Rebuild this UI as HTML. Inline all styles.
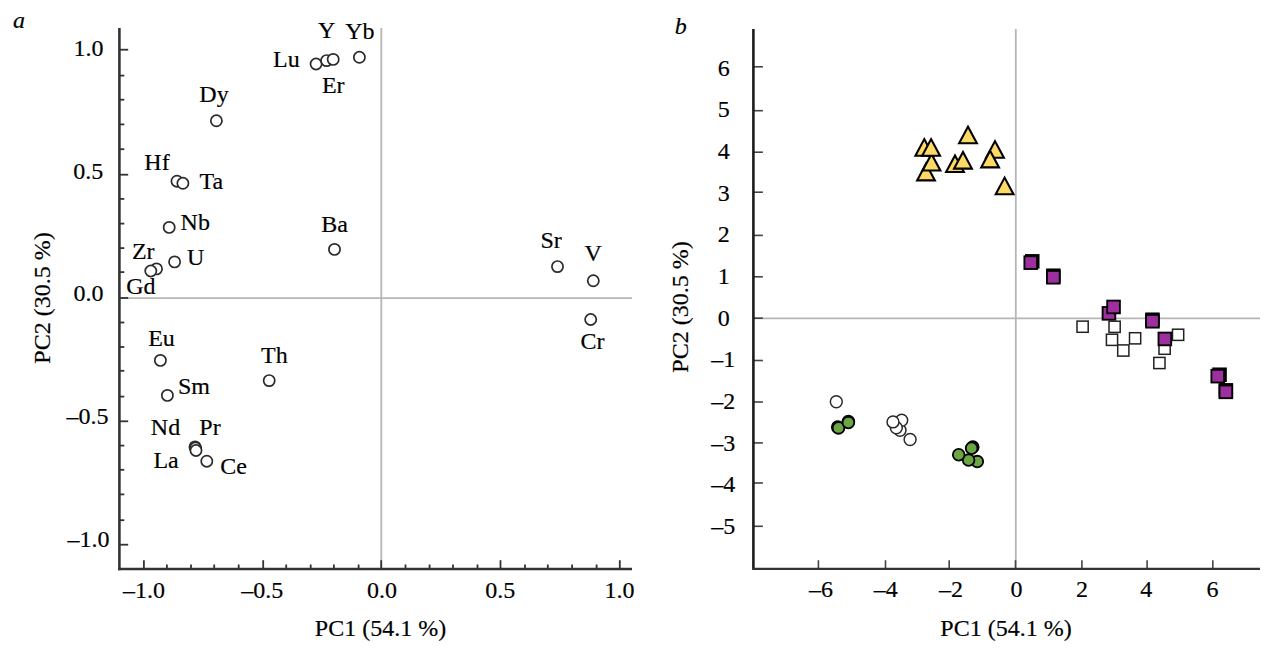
<!DOCTYPE html>
<html><head><meta charset="utf-8"><title>PCA</title>
<style>
html,body{margin:0;padding:0;background:#fff;}
body{width:1274px;height:656px;overflow:hidden;}
svg{display:block;font-family:"Liberation Serif","Times New Roman",serif;}
svg text{fill:#000;stroke:#000;stroke-width:0.18px;}
</style></head><body>
<svg width="1274" height="656" viewBox="0 0 1274 656">
<rect width="1274" height="656" fill="#fff"/>
<line x1="119.4" y1="298.2" x2="632" y2="298.2" stroke="#b6b6b6" stroke-width="1.8"/>
<line x1="381.3" y1="28.0" x2="381.3" y2="569.0" stroke="#b6b6b6" stroke-width="1.8"/>
<line x1="119.4" y1="544.7" x2="128.2" y2="544.7" stroke="#333" stroke-width="1.8"/>
<line x1="119.4" y1="520.2" x2="124.3" y2="520.2" stroke="#333" stroke-width="1.8"/>
<line x1="119.4" y1="494.4" x2="124.3" y2="494.4" stroke="#333" stroke-width="1.8"/>
<line x1="119.4" y1="469.8" x2="124.3" y2="469.8" stroke="#333" stroke-width="1.8"/>
<line x1="119.4" y1="445.6" x2="124.3" y2="445.6" stroke="#333" stroke-width="1.8"/>
<line x1="119.4" y1="421.3" x2="128.2" y2="421.3" stroke="#333" stroke-width="1.8"/>
<line x1="119.4" y1="396.6" x2="124.3" y2="396.6" stroke="#333" stroke-width="1.8"/>
<line x1="119.4" y1="370.8" x2="124.3" y2="370.8" stroke="#333" stroke-width="1.8"/>
<line x1="119.4" y1="347.0" x2="124.3" y2="347.0" stroke="#333" stroke-width="1.8"/>
<line x1="119.4" y1="322.5" x2="124.3" y2="322.5" stroke="#333" stroke-width="1.8"/>
<line x1="119.4" y1="298.0" x2="128.2" y2="298.0" stroke="#333" stroke-width="1.8"/>
<line x1="119.4" y1="272.1" x2="124.3" y2="272.1" stroke="#333" stroke-width="1.8"/>
<line x1="119.4" y1="248.1" x2="124.3" y2="248.1" stroke="#333" stroke-width="1.8"/>
<line x1="119.4" y1="223.6" x2="124.3" y2="223.6" stroke="#333" stroke-width="1.8"/>
<line x1="119.4" y1="198.9" x2="124.3" y2="198.9" stroke="#333" stroke-width="1.8"/>
<line x1="119.4" y1="174.7" x2="128.2" y2="174.7" stroke="#333" stroke-width="1.8"/>
<line x1="119.4" y1="149.2" x2="124.3" y2="149.2" stroke="#333" stroke-width="1.8"/>
<line x1="119.4" y1="124.4" x2="124.3" y2="124.4" stroke="#333" stroke-width="1.8"/>
<line x1="119.4" y1="99.7" x2="124.3" y2="99.7" stroke="#333" stroke-width="1.8"/>
<line x1="119.4" y1="75.6" x2="124.3" y2="75.6" stroke="#333" stroke-width="1.8"/>
<line x1="119.4" y1="49.7" x2="128.2" y2="49.7" stroke="#333" stroke-width="1.8"/>
<line x1="143.9" y1="569.0" x2="143.9" y2="560.2" stroke="#333" stroke-width="1.8"/>
<line x1="166.9" y1="569.0" x2="166.9" y2="564.5" stroke="#333" stroke-width="1.8"/>
<line x1="191.0" y1="569.0" x2="191.0" y2="564.5" stroke="#333" stroke-width="1.8"/>
<line x1="214.2" y1="569.0" x2="214.2" y2="564.5" stroke="#333" stroke-width="1.8"/>
<line x1="238.7" y1="569.0" x2="238.7" y2="564.5" stroke="#333" stroke-width="1.8"/>
<line x1="263.2" y1="569.0" x2="263.2" y2="560.2" stroke="#333" stroke-width="1.8"/>
<line x1="286.2" y1="569.0" x2="286.2" y2="564.5" stroke="#333" stroke-width="1.8"/>
<line x1="310.7" y1="569.0" x2="310.7" y2="564.5" stroke="#333" stroke-width="1.8"/>
<line x1="333.9" y1="569.0" x2="333.9" y2="564.5" stroke="#333" stroke-width="1.8"/>
<line x1="358.6" y1="569.0" x2="358.6" y2="564.5" stroke="#333" stroke-width="1.8"/>
<line x1="381.2" y1="569.0" x2="381.2" y2="560.2" stroke="#333" stroke-width="1.8"/>
<line x1="405.5" y1="569.0" x2="405.5" y2="564.5" stroke="#333" stroke-width="1.8"/>
<line x1="429.6" y1="569.0" x2="429.6" y2="564.5" stroke="#333" stroke-width="1.8"/>
<line x1="453.0" y1="569.0" x2="453.0" y2="564.5" stroke="#333" stroke-width="1.8"/>
<line x1="477.5" y1="569.0" x2="477.5" y2="564.5" stroke="#333" stroke-width="1.8"/>
<line x1="500.5" y1="569.0" x2="500.5" y2="560.2" stroke="#333" stroke-width="1.8"/>
<line x1="525.0" y1="569.0" x2="525.0" y2="564.5" stroke="#333" stroke-width="1.8"/>
<line x1="547.8" y1="569.0" x2="547.8" y2="564.5" stroke="#333" stroke-width="1.8"/>
<line x1="572.1" y1="569.0" x2="572.1" y2="564.5" stroke="#333" stroke-width="1.8"/>
<line x1="596.6" y1="569.0" x2="596.6" y2="564.5" stroke="#333" stroke-width="1.8"/>
<line x1="619.8" y1="569.0" x2="619.8" y2="560.2" stroke="#333" stroke-width="1.8"/>
<path d="M119.4 28.0 V570.2" fill="none" stroke="#333" stroke-width="2.6"/>
<path d="M118.10000000000001 569.0 H632" fill="none" stroke="#333" stroke-width="2.4"/>
<text x="103.6" y="55.9" text-anchor="end" font-size="24" >1.0</text>
<text x="103.2" y="178.8" text-anchor="end" font-size="24" >0.5</text>
<text x="103.6" y="300.7" text-anchor="end" font-size="24" >0.0</text>
<text x="108.6" y="423.8" text-anchor="end" font-size="24" >–0.5</text>
<text x="109.6" y="547.0" text-anchor="end" font-size="24" >–1.0</text>
<text x="144.1" y="598.0" text-anchor="middle" font-size="24" >–1.0</text>
<text x="262.2" y="598.0" text-anchor="middle" font-size="24" >–0.5</text>
<text x="381.9" y="597.8" text-anchor="middle" font-size="24" >0.0</text>
<text x="500.2" y="597.6" text-anchor="middle" font-size="24" >0.5</text>
<text x="619.4" y="597.6" text-anchor="middle" font-size="24" >1.0</text>
<text x="380.5" y="635.6" text-anchor="middle" font-size="24" >PC1 (54.1 %)</text>
<text transform="translate(50.3,298) rotate(-90)" text-anchor="middle" stroke-width="0.1" font-size="24">PC2 (30.5 %)</text>
<text x="13.0" y="28.3" text-anchor="start" font-size="24" font-style="italic">a</text>
<circle cx="316.1" cy="64.0" r="5.6" fill="#fff" stroke="#2a2a2a" stroke-width="1.7"/>
<circle cx="326.6" cy="60.6" r="5.6" fill="#fff" stroke="#2a2a2a" stroke-width="1.7"/>
<circle cx="333.2" cy="59.4" r="5.6" fill="#fff" stroke="#2a2a2a" stroke-width="1.7"/>
<circle cx="359.4" cy="57.3" r="5.6" fill="#fff" stroke="#2a2a2a" stroke-width="1.7"/>
<circle cx="216.4" cy="120.8" r="5.6" fill="#fff" stroke="#2a2a2a" stroke-width="1.7"/>
<circle cx="177" cy="181.2" r="5.6" fill="#fff" stroke="#2a2a2a" stroke-width="1.7"/>
<circle cx="182.9" cy="183.3" r="5.6" fill="#fff" stroke="#2a2a2a" stroke-width="1.7"/>
<circle cx="169.2" cy="227.4" r="5.6" fill="#fff" stroke="#2a2a2a" stroke-width="1.7"/>
<circle cx="174.6" cy="261.9" r="5.6" fill="#fff" stroke="#2a2a2a" stroke-width="1.7"/>
<circle cx="156.5" cy="268.9" r="5.6" fill="#fff" stroke="#2a2a2a" stroke-width="1.7"/>
<circle cx="150.8" cy="271" r="5.6" fill="#fff" stroke="#2a2a2a" stroke-width="1.7"/>
<circle cx="334.5" cy="249.4" r="5.6" fill="#fff" stroke="#2a2a2a" stroke-width="1.7"/>
<circle cx="160.4" cy="360.4" r="5.6" fill="#fff" stroke="#2a2a2a" stroke-width="1.7"/>
<circle cx="167.4" cy="395.4" r="5.6" fill="#fff" stroke="#2a2a2a" stroke-width="1.7"/>
<circle cx="269.2" cy="380.6" r="5.6" fill="#fff" stroke="#2a2a2a" stroke-width="1.7"/>
<circle cx="195.0" cy="446.9" r="5.6" fill="#fff" stroke="#2a2a2a" stroke-width="1.7"/>
<circle cx="195.5" cy="448.1" r="5.6" fill="#fff" stroke="#2a2a2a" stroke-width="1.7"/>
<circle cx="196.0" cy="450.5" r="5.6" fill="#fff" stroke="#2a2a2a" stroke-width="1.7"/>
<circle cx="206.8" cy="461.2" r="5.6" fill="#fff" stroke="#2a2a2a" stroke-width="1.7"/>
<circle cx="557.5" cy="266.6" r="5.6" fill="#fff" stroke="#2a2a2a" stroke-width="1.7"/>
<circle cx="593.3" cy="280.8" r="5.6" fill="#fff" stroke="#2a2a2a" stroke-width="1.7"/>
<circle cx="590.7" cy="319.5" r="5.6" fill="#fff" stroke="#2a2a2a" stroke-width="1.7"/>
<text x="318.0" y="37.6" text-anchor="start" font-size="24" >Y</text>
<text x="345.2" y="38.9" text-anchor="start" font-size="24" >Yb</text>
<text x="273.1" y="67.4" text-anchor="start" font-size="24" >Lu</text>
<text x="321.9" y="93.1" text-anchor="start" font-size="24" >Er</text>
<text x="199.3" y="102.4" text-anchor="start" font-size="24" >Dy</text>
<text x="144.3" y="170.3" text-anchor="start" font-size="24" >Hf</text>
<text x="199.5" y="189.2" text-anchor="start" font-size="24" >Ta</text>
<text x="180.6" y="230.2" text-anchor="start" font-size="24" >Nb</text>
<text x="321.3" y="231.6" text-anchor="start" font-size="24" >Ba</text>
<text x="131.9" y="258.8" text-anchor="start" font-size="24" >Zr</text>
<text x="187.1" y="265.2" text-anchor="start" font-size="24" >U</text>
<text x="126.2" y="294.2" text-anchor="start" font-size="24" >Gd</text>
<text x="148.2" y="345.9" text-anchor="start" font-size="24" >Eu</text>
<text x="261.0" y="362.8" text-anchor="start" font-size="24" >Th</text>
<text x="178.0" y="393.9" text-anchor="start" font-size="24" >Sm</text>
<text x="150.8" y="435.4" text-anchor="start" font-size="24" >Nd</text>
<text x="199.3" y="435.4" text-anchor="start" font-size="24" >Pr</text>
<text x="153.4" y="467.8" text-anchor="start" font-size="24" >La</text>
<text x="220.3" y="473.5" text-anchor="start" font-size="24" >Ce</text>
<text x="540.5" y="247.7" text-anchor="start" font-size="24" >Sr</text>
<text x="584.5" y="261.1" text-anchor="start" font-size="24" >V</text>
<text x="580.6" y="348.8" text-anchor="start" font-size="24" >Cr</text>
<line x1="753.4" y1="318.4" x2="1260" y2="318.4" stroke="#b6b6b6" stroke-width="1.8"/>
<line x1="1015.8" y1="29" x2="1015.8" y2="568.8" stroke="#b6b6b6" stroke-width="1.8"/>
<line x1="753.4" y1="66.8" x2="762.9" y2="66.8" stroke="#444" stroke-width="1.6"/>
<line x1="753.4" y1="110.7" x2="762.9" y2="110.7" stroke="#444" stroke-width="1.6"/>
<line x1="753.4" y1="152.2" x2="762.9" y2="152.2" stroke="#444" stroke-width="1.6"/>
<line x1="753.4" y1="192.2" x2="762.9" y2="192.2" stroke="#444" stroke-width="1.6"/>
<line x1="753.4" y1="235.4" x2="762.9" y2="235.4" stroke="#444" stroke-width="1.6"/>
<line x1="753.4" y1="276.8" x2="762.9" y2="276.8" stroke="#444" stroke-width="1.6"/>
<line x1="753.4" y1="318.2" x2="762.9" y2="318.2" stroke="#444" stroke-width="1.6"/>
<line x1="753.4" y1="360.5" x2="762.9" y2="360.5" stroke="#444" stroke-width="1.6"/>
<line x1="753.4" y1="402" x2="762.9" y2="402" stroke="#444" stroke-width="1.6"/>
<line x1="753.4" y1="442.9" x2="762.9" y2="442.9" stroke="#444" stroke-width="1.6"/>
<line x1="753.4" y1="483" x2="762.9" y2="483" stroke="#444" stroke-width="1.6"/>
<line x1="753.4" y1="526.3" x2="762.9" y2="526.3" stroke="#444" stroke-width="1.6"/>
<line x1="818.4" y1="568.8" x2="818.4" y2="560.1999999999999" stroke="#444" stroke-width="1.6"/>
<line x1="885.5" y1="568.8" x2="885.5" y2="560.1999999999999" stroke="#444" stroke-width="1.6"/>
<line x1="949.2" y1="568.8" x2="949.2" y2="560.1999999999999" stroke="#444" stroke-width="1.6"/>
<line x1="1015.5" y1="568.8" x2="1015.5" y2="560.1999999999999" stroke="#444" stroke-width="1.6"/>
<line x1="1081.9" y1="568.8" x2="1081.9" y2="560.1999999999999" stroke="#444" stroke-width="1.6"/>
<line x1="1147.1" y1="568.8" x2="1147.1" y2="560.1999999999999" stroke="#444" stroke-width="1.6"/>
<line x1="1212.8" y1="568.8" x2="1212.8" y2="560.1999999999999" stroke="#444" stroke-width="1.6"/>
<path d="M753.4 29 V568.8" fill="none" stroke="#1c1c1c" stroke-width="2.6"/>
<path d="M752.1 568.8 H1260" fill="none" stroke="#333" stroke-width="2.2"/>
<text x="723.8" y="75.5" text-anchor="middle" font-size="24" >6</text>
<text x="723.8" y="117.2" text-anchor="middle" font-size="24" >5</text>
<text x="723.8" y="158.9" text-anchor="middle" font-size="24" >4</text>
<text x="723.8" y="200.6" text-anchor="middle" font-size="24" >3</text>
<text x="723.8" y="242.2" text-anchor="middle" font-size="24" >2</text>
<text x="723.8" y="283.9" text-anchor="middle" font-size="24" >1</text>
<text x="723.8" y="325.6" text-anchor="middle" font-size="24" >0</text>
<text x="723.2" y="367.3" text-anchor="middle" font-size="24" >–1</text>
<text x="723.2" y="409.0" text-anchor="middle" font-size="24" >–2</text>
<text x="723.2" y="450.6" text-anchor="middle" font-size="24" >–3</text>
<text x="723.2" y="492.3" text-anchor="middle" font-size="24" >–4</text>
<text x="723.2" y="534.0" text-anchor="middle" font-size="24" >–5</text>
<text x="820.9" y="597.0" text-anchor="middle" font-size="24" >–6</text>
<text x="885.8" y="597.0" text-anchor="middle" font-size="24" >–4</text>
<text x="950.9" y="597.0" text-anchor="middle" font-size="24" >–2</text>
<text x="1016.4" y="597.0" text-anchor="middle" font-size="24" >0</text>
<text x="1081.9" y="597.0" text-anchor="middle" font-size="24" >2</text>
<text x="1146.3" y="597.0" text-anchor="middle" font-size="24" >4</text>
<text x="1212.5" y="597.0" text-anchor="middle" font-size="24" >6</text>
<text x="1006.0" y="635.6" text-anchor="middle" font-size="24" >PC1 (54.1 %)</text>
<text transform="translate(687.6,307) rotate(-90)" text-anchor="middle" stroke-width="0.1" font-size="24">PC2 (30.5 %)</text>
<text x="674.8" y="33.7" text-anchor="start" font-size="24" font-style="italic">b</text>
<rect x="1077.0" y="321.1" width="11.2" height="11.2" fill="#fff" stroke="#222" stroke-width="1.5"/>
<rect x="1109.0" y="321.2" width="11.2" height="11.2" fill="#fff" stroke="#222" stroke-width="1.5"/>
<rect x="1106.4" y="334.2" width="11.2" height="11.2" fill="#fff" stroke="#222" stroke-width="1.5"/>
<rect x="1117.7" y="344.9" width="11.2" height="11.2" fill="#fff" stroke="#222" stroke-width="1.5"/>
<rect x="1129.5" y="332.7" width="11.2" height="11.2" fill="#fff" stroke="#222" stroke-width="1.5"/>
<rect x="1172.5" y="329.2" width="11.2" height="11.2" fill="#fff" stroke="#222" stroke-width="1.5"/>
<rect x="1153.8" y="357.4" width="11.2" height="11.2" fill="#fff" stroke="#222" stroke-width="1.5"/>
<rect x="1159.0" y="343.1" width="11.2" height="11.2" fill="#fff" stroke="#222" stroke-width="1.5"/>
<rect x="1025.9" y="255.0" width="12.7" height="12.7" fill="#9e2f9f" stroke="#000" stroke-width="1.85"/>
<rect x="1024.4" y="256.3" width="12.7" height="12.7" fill="#9e2f9f" stroke="#000" stroke-width="1.85"/>
<rect x="1047.0" y="269.4" width="12.7" height="12.7" fill="#9e2f9f" stroke="#000" stroke-width="1.85"/>
<rect x="1047.0" y="270.9" width="12.7" height="12.7" fill="#9e2f9f" stroke="#000" stroke-width="1.85"/>
<rect x="1102.6" y="307.0" width="12.7" height="12.7" fill="#9e2f9f" stroke="#000" stroke-width="1.85"/>
<rect x="1107.2" y="300.6" width="12.7" height="12.7" fill="#9e2f9f" stroke="#000" stroke-width="1.85"/>
<rect x="1146.1" y="313.4" width="12.7" height="12.7" fill="#9e2f9f" stroke="#000" stroke-width="1.85"/>
<rect x="1146.1" y="314.9" width="12.7" height="12.7" fill="#9e2f9f" stroke="#000" stroke-width="1.85"/>
<rect x="1158.5" y="332.6" width="12.7" height="12.7" fill="#9e2f9f" stroke="#000" stroke-width="1.85"/>
<rect x="1213.2" y="368.4" width="12.7" height="12.7" fill="#9e2f9f" stroke="#000" stroke-width="1.85"/>
<rect x="1211.4" y="369.8" width="12.7" height="12.7" fill="#9e2f9f" stroke="#000" stroke-width="1.85"/>
<rect x="1219.5" y="384.0" width="12.7" height="12.7" fill="#9e2f9f" stroke="#000" stroke-width="1.85"/>
<rect x="1219.5" y="385.5" width="12.7" height="12.7" fill="#9e2f9f" stroke="#000" stroke-width="1.85"/>
<path d="M915.4 155.7 L924.3 139.1 L933.2 155.7 Z" fill="#ffd966" stroke="#000" stroke-width="2.1" stroke-linejoin="miter"/>
<path d="M917.1 180.4 L926.0 163.8 L934.9 180.4 Z" fill="#ffd966" stroke="#000" stroke-width="2.1" stroke-linejoin="miter"/>
<path d="M922.6 170.5 L931.5 153.9 L940.4 170.5 Z" fill="#ffd966" stroke="#000" stroke-width="2.1" stroke-linejoin="miter"/>
<path d="M922.2 155.7 L931.1 139.1 L940.0 155.7 Z" fill="#ffd966" stroke="#000" stroke-width="2.1" stroke-linejoin="miter"/>
<path d="M959.1 143.3 L968.0 126.7 L976.9 143.3 Z" fill="#ffd966" stroke="#000" stroke-width="2.1" stroke-linejoin="miter"/>
<path d="M946.1 172.0 L955.0 155.4 L963.9 172.0 Z" fill="#ffd966" stroke="#000" stroke-width="2.1" stroke-linejoin="miter"/>
<path d="M954.1 168.6 L963.0 152.0 L971.9 168.6 Z" fill="#ffd966" stroke="#000" stroke-width="2.1" stroke-linejoin="miter"/>
<path d="M986.1 157.7 L995.0 141.1 L1003.9 157.7 Z" fill="#ffd966" stroke="#000" stroke-width="2.1" stroke-linejoin="miter"/>
<path d="M981.2 167.4 L990.1 150.8 L999.0 167.4 Z" fill="#ffd966" stroke="#000" stroke-width="2.1" stroke-linejoin="miter"/>
<path d="M995.7 194.2 L1004.6 177.6 L1013.5 194.2 Z" fill="#ffd966" stroke="#000" stroke-width="2.1" stroke-linejoin="miter"/>
<circle cx="836.3" cy="401.8" r="5.95" fill="#fff" stroke="#2a2a2a" stroke-width="1.5"/>
<circle cx="910.1" cy="439.5" r="5.95" fill="#fff" stroke="#2a2a2a" stroke-width="1.5"/>
<circle cx="900" cy="430.3" r="5.95" fill="#fff" stroke="#2a2a2a" stroke-width="1.5"/>
<circle cx="901.7" cy="420.2" r="5.95" fill="#fff" stroke="#2a2a2a" stroke-width="1.5"/>
<circle cx="896.3" cy="427.8" r="5.95" fill="#fff" stroke="#2a2a2a" stroke-width="1.5"/>
<circle cx="893" cy="421.9" r="5.95" fill="#fff" stroke="#2a2a2a" stroke-width="1.5"/>
<circle cx="837.7" cy="427.1" r="5.85" fill="#6aa744" stroke="#000" stroke-width="1.8"/>
<circle cx="838.5" cy="427.9" r="5.85" fill="#6aa744" stroke="#000" stroke-width="1.8"/>
<circle cx="848.4" cy="421.6" r="5.85" fill="#6aa744" stroke="#000" stroke-width="1.8"/>
<circle cx="848.4" cy="422.6" r="5.85" fill="#6aa744" stroke="#000" stroke-width="1.8"/>
<circle cx="977.3" cy="461.6" r="5.85" fill="#6aa744" stroke="#000" stroke-width="1.8"/>
<circle cx="968.6" cy="460.1" r="5.85" fill="#6aa744" stroke="#000" stroke-width="1.8"/>
<circle cx="958.7" cy="454.8" r="5.85" fill="#6aa744" stroke="#000" stroke-width="1.8"/>
<circle cx="972.8" cy="447.1" r="5.85" fill="#6aa744" stroke="#000" stroke-width="1.8"/>
<circle cx="971.6" cy="448.3" r="5.85" fill="#6aa744" stroke="#000" stroke-width="1.8"/>
</svg>
</body></html>
